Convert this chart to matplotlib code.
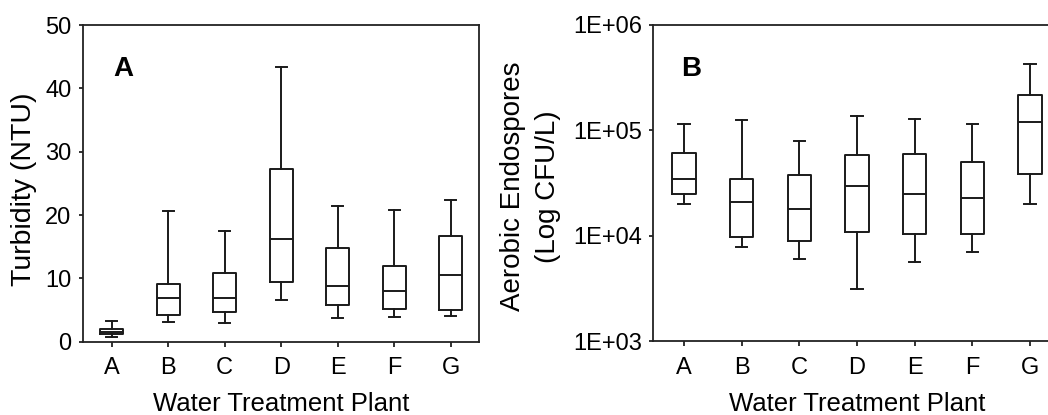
import matplotlib
matplotlib.use('Agg')
import matplotlib.pyplot as plt
from matplotlib.ticker import FixedLocator, NullLocator

plt.rcParams['font.family'] = ['Liberation Sans', 'DejaVu Sans']

plants = ['A', 'B', 'C', 'D', 'E', 'F', 'G']

# Turbidity (NTU)
turb_whislo = [0.8, 3.1, 3.0, 6.6, 3.7, 3.85, 4.1]
turb_q1 = [1.25, 4.2, 4.75, 9.5, 5.8, 5.15, 5.05]
turb_med = [1.6, 6.95, 6.85, 16.2, 8.75, 8.0, 10.5]
turb_q3 = [2.05, 9.1, 10.9, 27.2, 14.85, 11.95, 16.7]
turb_whishi = [3.3, 20.6, 17.4, 43.3, 21.4, 20.8, 22.3]

# Aerobic endospores (CFU/L)
spore_whislo = [2.0e4, 7.9e3, 6.0e3, 3.1e3, 5.6e3, 7.0e3, 2.0e4]
spore_q1 = [2.5e4, 9.8e3, 8.9e3, 1.09e4, 1.05e4, 1.05e4, 3.9e4]
spore_med = [3.5e4, 2.08e4, 1.78e4, 3.0e4, 2.48e4, 2.28e4, 1.21e5]
spore_q3 = [6.15e4, 3.5e4, 3.8e4, 5.8e4, 6.0e4, 5.05e4, 2.17e5]
spore_whishi = [1.14e5, 1.25e5, 8.0e4, 1.38e5, 1.28e5, 1.14e5, 4.3e5]

turb_ticks = [0, 10, 20, 30, 40, 50]
spore_ticks = [1e3, 1e4, 1e5, 1e6]
spore_ticklabels = ['1E+03', '1E+04', '1E+05', '1E+06']


def make_stats(lo, q1, med, q3, hi):
    stats = []
    for i in range(len(plants)):
        stats.append({'whislo': lo[i], 'q1': q1[i], 'med': med[i],
                      'q3': q3[i], 'whishi': hi[i], 'fliers': []})
    return stats


def style_axes(ax):
    for s in ax.spines.values():
        s.set_linewidth(1.3)
        s.set_color('#222222')
    ax.tick_params(axis='both', labelsize=17, width=1.3, color='#222222')
    ax.tick_params(axis='y', length=3, pad=5)
    ax.tick_params(axis='x', length=3.6, pad=7.5)
    ax.set_xticks(range(1, len(plants) + 1))
    ax.set_xticklabels(plants)
    ax.set_xlabel('Water Treatment Plant', fontsize=18.5)
    ax.xaxis.set_label_coords(0.5, -0.16)


line = dict(color='#1a1a1a', linewidth=1.4)

fig = plt.figure(figsize=(10.48, 4.15), dpi=100)

# Panel A
ax1 = fig.add_axes([82.7 / 1048, 73.3 / 415, 396.3 / 1048, 316.7 / 415])
ax1.bxp(make_stats(turb_whislo, turb_q1, turb_med, turb_q3, turb_whishi),
        positions=range(1, 8), widths=0.4, capwidths=0.2, showfliers=False,
        boxprops=line, medianprops=line, whiskerprops=line, capprops=line)
ax1.set_xlim(0.487, 7.5)
ax1.set_ylim(0, 50)
ax1.set_yticks(turb_ticks)
style_axes(ax1)
ax1.set_ylabel('Turbidity (NTU)', fontsize=20.5)
ax1.yaxis.label.set_verticalalignment('center')
ax1.yaxis.set_label_coords(-0.148, 0.48)
ax1.text(0.0765, 0.839, 'A', transform=ax1.transAxes, fontsize=20,
         fontweight='bold', ha='left', va='baseline')

# Panel B (log scale, runs past the right edge)
ax2 = fig.add_axes([653.3 / 1048, 73.7 / 415, 407.4 / 1048, 316.3 / 415])
ax2.bxp(make_stats(spore_whislo, spore_q1, spore_med, spore_q3, spore_whishi),
        positions=range(1, 8), widths=0.4, capwidths=0.2, showfliers=False,
        boxprops=line, medianprops=line, whiskerprops=line, capprops=line)
ax2.set_yscale('log')
ax2.set_xlim(0.468, 7.532)
ax2.set_ylim(1e3, 1e6)
ax2.yaxis.set_major_locator(FixedLocator(spore_ticks))
ax2.yaxis.set_minor_locator(NullLocator())
ax2.set_yticklabels(spore_ticklabels)
style_axes(ax2)
ax2.set_ylabel('Aerobic Endospores\n(Log CFU/L)', fontsize=20, linespacing=1.45)
ax2.yaxis.label.set_verticalalignment('center')
ax2.yaxis.set_label_coords(-0.301, 0.49)
ax2.text(0.068, 0.839, 'B', transform=ax2.transAxes, fontsize=20,
         fontweight='bold', ha='left', va='baseline')

fig.savefig('out.png', dpi=100)
